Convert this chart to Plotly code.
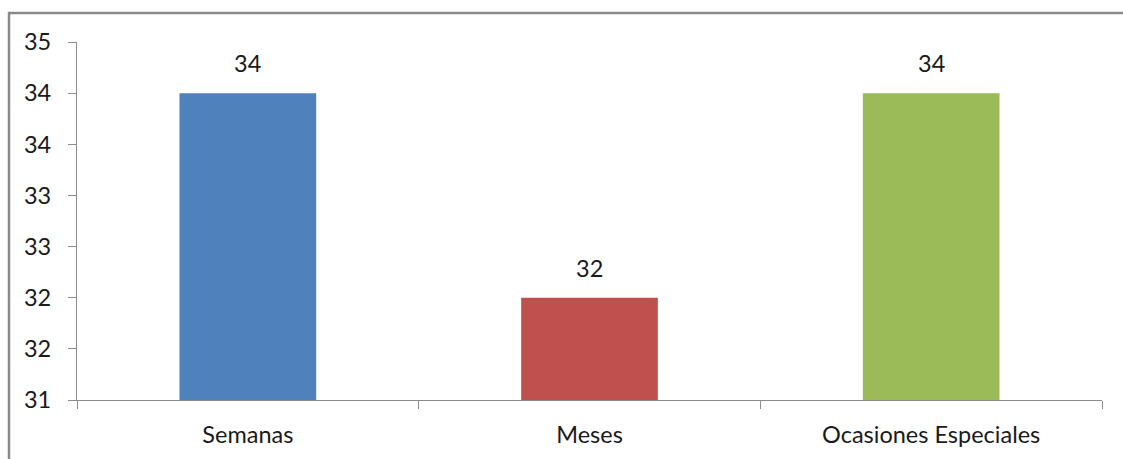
import math
import plotly.graph_objects as go

# Chart data
categories = ["Semanas", "Meses", "Ocasiones Especiales"]
values = [34, 32, 34]
bar_colors = ["#4F81BD", "#C0504D", "#9BBB59"]

# Value axis: 31 to 34.5 in steps of 0.5, shown with no decimals (half rounds up)
y_tick_values = [31, 31.5, 32, 32.5, 33, 33.5, 34, 34.5]
y_tick_labels = [str(int(math.floor(v + 0.5))) for v in y_tick_values]

FONT = "Lato, 'Liberation Sans', Arial, sans-serif"
FS = 23.5
AXIS_GREY = "#8c8c8c"
TEXT = "#1a1a1a"

W, H = 1123, 459
ML, MR, MT, MB = 77, 21, 42, 59
plot_w = W - ML - MR
plot_h = H - MT - MB

fig = go.Figure(
    go.Bar(
        x=categories,
        y=values,
        marker=dict(color=bar_colors, line=dict(width=0)),
        width=0.4,
        hoverinfo="skip",
    )
)

# Data labels above each bar
for cat, val in zip(categories, values):
    fig.add_annotation(
        x=cat, y=val, text=str(val), showarrow=False,
        yanchor="bottom", yshift=14,
        font=dict(family=FONT, size=FS, color=TEXT),
    )

# Outer chart border (partly clipped on the right and bottom)
fig.add_shape(
    type="rect", xref="paper", yref="paper",
    x0=(9 - ML) / plot_w, x1=(W + 20 - ML) / plot_w,
    y0=-(MB + 20) / plot_h, y1=1 + (MT - 13) / plot_h,
    line=dict(color="#8a8a8a", width=2.5), fillcolor="rgba(0,0,0,0)",
    layer="below",
)

fig.update_layout(
    width=W, height=H,
    margin=dict(l=ML, r=MR, t=MT, b=MB, pad=0),
    paper_bgcolor="white", plot_bgcolor="white",
    showlegend=False,
    bargap=0.6,
    font=dict(family=FONT, size=FS, color=TEXT),
)

fig.update_xaxes(
    type="category",
    showline=True, linecolor=AXIS_GREY, linewidth=1.3,
    ticks="outside", tickson="boundaries", ticklen=8, tickcolor=AXIS_GREY, tickwidth=1.3,
    showgrid=False, zeroline=False,
    tickfont=dict(family=FONT, size=FS, color=TEXT),
    ticklabelstandoff=14,
)

fig.update_yaxes(
    range=[y_tick_values[0], y_tick_values[-1]],
    tickmode="array",
    tickvals=y_tick_values,
    ticktext=y_tick_labels,
    showline=True, linecolor=AXIS_GREY, linewidth=1.3,
    ticks="outside", ticklen=8, tickcolor=AXIS_GREY, tickwidth=1.3,
    showgrid=False, zeroline=False,
    tickfont=dict(family=FONT, size=FS, color=TEXT),
    ticklabelstandoff=12,
)

fig.write_html("out.html")
